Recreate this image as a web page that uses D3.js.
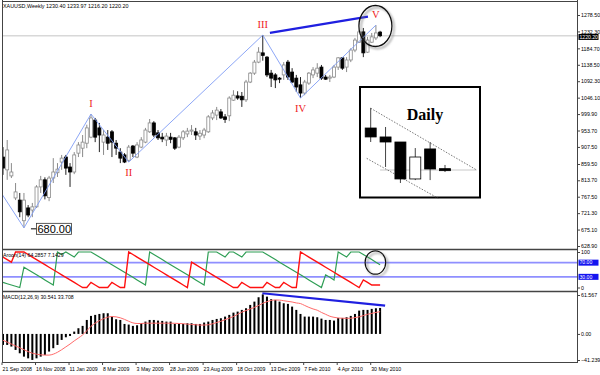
<!DOCTYPE html>
<html>
<head>
<meta charset="utf-8">
<script src="https://cdn.jsdelivr.net/npm/d3@7/dist/d3.min.js"></script>
<style>
  body { margin: 0; background: #fff; }
  svg { display: block; font-family: "Liberation Sans", Arial, sans-serif; }
</style>
</head>
<body>
<svg id="chart" width="600" height="375"></svg>
<script>
// XAUUSD weekly bars, 21 Sep 2008 .. 13 Jun 2010
const opens = [879, 843, 826, 764, 758, 700, 736, 730, 739, 795, 815, 765, 820, 835, 865, 879, 851, 837, 890, 904,
  918, 935, 983, 961, 921, 935, 950, 918, 893, 885, 870, 910, 879, 907, 921, 950, 975, 947, 935, 927,
  935, 933, 907, 933, 944, 952, 950, 938, 941, 950, 989, 997, 1006, 992, 995, 1039, 1051, 1050, 1040, 1090,
  1115, 1146, 1172, 1160, 1115, 1110, 1101, 1110, 1146, 1118, 1101, 1082, 1059, 1087, 1110, 1115, 1132, 1104, 1101, 1104,
  1132, 1158, 1132, 1152, 1180, 1202, 1231, 1174, 1202, 1214, 1230.40];
const highs = [907, 927, 862, 806, 778, 778, 744, 750, 800, 826, 822, 826, 876, 862, 885, 885, 862, 893, 921, 941,
  970, 1000, 989, 975, 955, 955, 955, 927, 904, 890, 913, 913, 921, 935, 961, 986, 980, 955, 947, 947,
  947, 935, 941, 955, 961, 969, 961, 955, 961, 997, 1011, 1020, 1014, 1000, 1050, 1067, 1064, 1062, 1096, 1118,
  1152, 1188, 1222, 1163, 1124, 1115, 1104, 1146, 1152, 1129, 1110, 1104, 1096, 1118, 1132, 1143, 1138, 1110, 1110, 1138,
  1160, 1160, 1160, 1185, 1214, 1236, 1242, 1217, 1228, 1250, 1233.97];
const lows = [829, 815, 820, 758, 710, 680, 710, 710, 736, 778, 760, 755, 806, 823, 843, 829, 795, 831, 879, 879,
  904, 932, 921, 893, 885, 899, 879, 885, 862, 862, 865, 879, 876, 904, 918, 947, 935, 927, 921, 910,
  918, 899, 904, 927, 935, 941, 927, 927, 932, 947, 983, 983, 986, 975, 980, 1037, 1040, 1020, 1034, 1087,
  1110, 1143, 1150, 1104, 1076, 1073, 1087, 1096, 1096, 1087, 1062, 1045, 1053, 1082, 1101, 1104, 1096, 1096, 1090, 1101,
  1124, 1124, 1118, 1146, 1174, 1200, 1160, 1172, 1200, 1208, 1216.20];
const closes = [848, 899, 837, 781, 725, 758, 716, 739, 795, 815, 770, 820, 837, 845, 876, 848, 837, 885, 913, 921,
  961, 989, 935, 941, 941, 918, 921, 904, 876, 865, 907, 890, 913, 927, 955, 975, 941, 933, 930, 938,
  929, 904, 935, 950, 952, 955, 941, 946, 955, 992, 1003, 1011, 989, 985, 1045, 1053, 1045, 1040, 1090, 1115,
  1146, 1174, 1165, 1110, 1101, 1096, 1098, 1138, 1104, 1090, 1076, 1059, 1090, 1115, 1124, 1129, 1101, 1098, 1104, 1132,
  1158, 1129, 1152, 1180, 1208, 1231, 1172, 1208, 1217, 1228, 1220.20];

const dateIdx = [0, 8, 16, 24, 32, 40, 48, 56, 64, 72, 80, 88];
const dateLabels = ["21 Sep 2008", "16 Nov 2008", "11 Jan 2009", "8 Mar 2009", "3 May 2009", "28 Jun 2009",
  "23 Aug 2009", "18 Oct 2009", "13 Dec 2009", "7 Feb 2010", "4 Apr 2010", "30 May 2010"];
const priceTicks = [1278.50, 1232.30, 1184.70, 1138.50, 1092.30, 1046.10, 999.90, 953.70, 907.50, 859.50,
  813.70, 767.50, 721.30, 675.10, 628.90];

// zigzag pivots and wave names
const zigIdx = [-0.25, 5, 21, 30, 62, 71, 89];
const zigPrice = [775, 680, 1000, 865, 1222, 1045, 1250];
const waveNames = ["I", "II", "III", "IV", "V"];
const trendMain = [[63.7, 1228], [87.1, 1274]];

// Aroon(14)
const aroonUp = [14.3, 10.7, 7.1, 3.6, 0, 57.1, 50, 42.9, 35.7, 28.6, 21.4, 14.3, 7.1, 100, 92.9, 100, 92.9, 85.7, 100, 100,
  100, 100, 92.9, 85.7, 78.6, 71.4, 64.3, 57.1, 50, 42.9, 35.7, 28.6, 21.4, 14.3, 7.1, 100, 92.9, 85.7, 78.6, 71.4,
  64.3, 57.1, 50, 42.9, 35.7, 28.6, 21.4, 14.3, 7.1, 100, 100, 100, 92.9, 85.7, 100, 100, 92.9, 85.7, 100, 100,
  100, 100, 100, 92.9, 85.7, 78.6, 71.4, 64.3, 57.1, 50, 42.9, 35.7, 28.6, 21.4, 14.3, 7.1, 0, 35.7, 28.6, 21.4,
  100, 92.9, 85.7, 100, 100, 100, 92.9, 85.7, 78.6, 71.4, 64.3];
const aroonDown = [85.7, 78.6, 71.4, 100, 100, 100, 92.9, 85.7, 78.6, 71.4, 64.3, 57.1, 50, 42.9, 35.7, 28.6, 21.4, 14.3, 7.1, 0,
  0, 14.3, 7.1, 0, 0, 0, 14.3, 7.1, 0, 0, 100, 92.9, 85.7, 78.6, 71.4, 64.3, 57.1, 50, 42.9, 35.7,
  28.6, 21.4, 14.3, 7.1, 0, 71.4, 64.3, 57.1, 50, 42.9, 35.7, 28.6, 21.4, 14.3, 7.1, 0, 0, 14.3, 7.1, 0,
  0, 0, 0, 14.3, 7.1, 0, 0, 14.3, 7.1, 0, 0, 100, 92.9, 85.7, 78.6, 71.4, 64.3, 57.1, 50, 42.9,
  35.7, 28.6, 21.4, 14.3, 7.1, 0, 21.4, 14.3, 7.1, 7.1, 7.1];
const aroonLevels = [70, 30];

// MACD(12,26,9)
const macdHist = [-17.4, -17.4, -20, -25.3, -30.6, -35.9, -38.6, -41.1, -38.6, -35.9, -33.2, -27.9, -22.6, -17.4, -9.5, -5.3, -3.2, 3.7, 9.0, 12.7,
  22.1, 28.5, 30.1, 31.6, 32.7, 32.7, 27.4, 23.2, 22.1, 15.8, 14.8, 12.7, 13.7, 16.9, 19.5, 22.1, 22.1, 21.1, 20.6, 19.5,
  19.5, 15.8, 15.8, 15.8, 16.9, 16.9, 15.8, 15.8, 18, 19.5, 22.1, 23.7, 24.8, 27.4, 30.1, 33.7, 35.3, 38, 40.6, 45.9,
  51.1, 58, 62.6, 59, 54.9, 53.8, 51.1, 48.5, 47.5, 43.2, 38, 31.6, 27.4, 27.4, 27.4, 26.4, 24.2, 22.1, 22.1, 21.1,
  25.3, 25.3, 26.4, 28.5, 31.6, 36.9, 38, 38, 39.6, 40.6, 41.1];
const macdSignal = [-10, -13, -16, -19, -22, -25, -28, -30.5, -32, -33, -33.5, -33.5, -32, -29, -25, -20.5, -16, -11, -6.5, -1.5,
  5, 12, 17, 21, 24, 26.5, 27.5, 27, 25.5, 23, 20, 17.5, 16.5, 16.5, 17, 17, 17, 17, 17, 17,
  17, 16.8, 16.5, 16.2, 15.5, 15, 14.5, 14, 14, 14.5, 16, 18, 20, 22.5, 25, 27.5, 31, 34.5, 37, 39.5,
  42, 45, 48.5, 51, 53, 53.7, 53.5, 52.5, 51.5, 50.5, 49, 48, 45, 42, 39.5, 37.5, 34, 31, 28, 26.3,
  25.2, 24.8, 24.7, 24.8, 25.8, 27, 29, 31, 32.5, 34, 35.2];
const macdTicks = [61.567, 0, -41.239];
const trendMacd = [[61.9, 64.3], [91.2, 44.7]];

// daily inset (relative units)
const dOpen = [62.5, 54.5, 50, 17, 43.8, 26.2];
const dHigh = [80.4, 63.4, 50, 44.6, 50, 29.5];
const dLow = [50, 27.7, 13.4, 16, 16, 23.2];
const dClose = [54.5, 50, 17, 36.6, 25.9, 24.4];

let svg = d3.select("#chart");
svg.append("rect").attr("width", 600).attr("height", 375).attr("fill", "#fff");

let x = d3.scaleLinear().domain([0, 90]).range([3, 380.1]);
let y = d3.scaleLinear().domain([628.9, 1278.5]).range([246, 15]);
let ya = d3.scaleLinear().domain([0, 100]).range([287.5, 252]);
let ym = d3.scaleLinear().domain([-41.239, 61.567]).range([360, 295]);

let defs = svg.append("defs");
defs.append("clipPath").attr("id", "clipMain").append("rect")
  .attr("x", 2.5).attr("y", 2).attr("width", 574.5).attr("height", 247);
defs.append("filter").attr("id", "shadow")
  .attr("x", "-30%").attr("y", "-30%").attr("width", "160%").attr("height", "160%")
  .append("feDropShadow").attr("dx", 2).attr("dy", 2).attr("stdDeviation", 1.3)
  .attr("flood-color", "#777").attr("flood-opacity", 0.8);

let bars = d3.range(opens.length).map(function (i) {
  return {i: i, o: opens[i], h: highs[i], l: lows[i], c: closes[i]};
});

// ---------- main window ----------
let main = svg.append("g").attr("clip-path", "url(#clipMain)");

// bid line
main.append("line")
  .attr("x1", 2).attr("x2", 577)
  .attr("y1", y(closes[closes.length - 1])).attr("y2", y(closes[closes.length - 1]))
  .attr("stroke", "#d8d8d8").attr("stroke-width", 1.5);

main.selectAll(".wick")
  .data(bars)
  .join("line")
  .attr("class", "wick")
  .attr("x1", function (d) { return x(d.i); })
  .attr("x2", function (d) { return x(d.i); })
  .attr("y1", function (d) { return y(d.h); })
  .attr("y2", function (d) { return y(d.l); })
  .attr("stroke", function (d) { return d.c >= d.o ? "#8a8a8a" : "#222"; })
  .attr("stroke-width", 1);

main.selectAll(".body")
  .data(bars)
  .join("rect")
  .attr("class", "body")
  .attr("x", function (d) { return x(d.i) - 1.5; })
  .attr("width", 3)
  .attr("y", function (d) { return y(Math.max(d.o, d.c)); })
  .attr("height", function (d) { return Math.max(0.8, Math.abs(y(d.o) - y(d.c))); })
  .attr("fill", function (d) { return d.c >= d.o ? "#fff" : "#000"; })
  .attr("stroke", function (d) { return d.c >= d.o ? "#8a8a8a" : "#000"; })
  .attr("stroke-width", 0.8);

// zigzag
let zig = zigIdx.map(function (d, i) { return [x(d), y(zigPrice[i])]; });
main.append("path")
  .attr("d", d3.line()(zig))
  .attr("fill", "none")
  .attr("stroke", "#7f9cf5")
  .attr("stroke-width", 0.9);

main.append("path")
  .attr("d", d3.line()(trendMain.map(function (d) { return [x(d[0]), y(d[1])]; })))
  .attr("stroke", "#1f1fe0")
  .attr("stroke-width", 2.2);

// wave labels: tops above, bottoms below
main.selectAll(".wave")
  .data(waveNames)
  .join("text")
  .attr("class", "wave")
  .attr("x", function (d, i) { return x(zigIdx[i + 2]); })
  .attr("y", function (d, i) { return i % 2 === 0 ? y(zigPrice[i + 2]) - 7 : y(zigPrice[i + 2]) + 14; })
  .attr("text-anchor", "middle")
  .attr("font-family", "Liberation Serif, Times New Roman, serif")
  .attr("font-size", 10.5)
  .attr("fill", "#ee1c1c")
  .text(function (d) { return d; });

// low price label
let lowX = x(zigIdx[1]), lowY = y(zigPrice[1]);
main.append("line")
  .attr("x1", lowX + 7).attr("x2", lowX + 13)
  .attr("y1", lowY + 1).attr("y2", lowY + 1)
  .attr("stroke", "#000");
main.append("rect")
  .attr("x", lowX + 12.5).attr("y", lowY - 4.5).attr("width", 35).attr("height", 11)
  .attr("fill", "#fff").attr("stroke", "#333").attr("stroke-width", 0.8);
main.append("text")
  .attr("x", lowX + 13.5).attr("y", lowY + 5)
  .attr("font-size", 11)
  .attr("fill", "#000")
  .text(d3.format(".2f")(zigPrice[1]));

// circle round wave V
main.append("ellipse")
  .attr("cx", x(89) - 0.5).attr("cy", 26).attr("rx", 16.5).attr("ry", 20.5)
  .attr("fill", "none").attr("stroke", "#111").attr("stroke-width", 1.3)
  .attr("filter", "url(#shadow)");

// daily inset
let inset = svg.append("g");
inset.append("rect")
  .attr("x", 360).attr("y", 87).attr("width", 120).attr("height", 110.5)
  .attr("fill", "#fff").attr("stroke", "#000").attr("stroke-width", 2);
inset.append("text")
  .attr("x", 425).attr("y", 119.5)
  .attr("text-anchor", "middle")
  .attr("font-family", "Liberation Serif, Times New Roman, serif")
  .attr("font-weight", "bold")
  .attr("font-size", 16)
  .text("Daily");

let dx = d3.scaleLinear().domain([0, 5]).range([370.7, 445]);
let dy = d3.scaleLinear().domain([0, 100]).range([198, 86]);
let dbars = dOpen.map(function (d, i) {
  return {i: i, o: d, h: dHigh[i], l: dLow[i], c: dClose[i]};
});
inset.append("line")
  .attr("x1", dx(0.63)).attr("x2", dx(7.13))
  .attr("y1", dy(25)).attr("y2", dy(25))
  .attr("stroke", "#c8c8c8").attr("stroke-width", 1);
inset.append("line")
  .attr("x1", dx(0)).attr("x2", dx(7.13))
  .attr("y1", dy(80.1)).attr("y2", dy(25))
  .attr("stroke", "#555").attr("stroke-width", 0.8).attr("stroke-dasharray", "1.5,1.5");
inset.append("line")
  .attr("x1", dx(-0.27)).attr("x2", dx(4.55))
  .attr("y1", dy(35.4)).attr("y2", dy(-0.3))
  .attr("stroke", "#555").attr("stroke-width", 0.8).attr("stroke-dasharray", "1.5,1.5");
inset.selectAll(".dwick")
  .data(dbars)
  .join("line")
  .attr("class", "dwick")
  .attr("x1", function (d) { return dx(d.i); })
  .attr("x2", function (d) { return dx(d.i); })
  .attr("y1", function (d) { return dy(d.h); })
  .attr("y2", function (d) { return dy(d.l); })
  .attr("stroke", "#444").attr("stroke-width", 1);
inset.selectAll(".dbody")
  .data(dbars)
  .join("rect")
  .attr("class", "dbody")
  .attr("x", function (d) { return dx(d.i) - 5.5; })
  .attr("width", 11)
  .attr("y", function (d) { return dy(Math.max(d.o, d.c)); })
  .attr("height", function (d) { return Math.max(1.5, Math.abs(dy(d.o) - dy(d.c))); })
  .attr("fill", function (d) { return d.c >= d.o ? "#fff" : "#000"; })
  .attr("stroke", "#000").attr("stroke-width", 0.8);

// title
svg.append("text")
  .attr("x", 3).attr("y", 7.5)
  .attr("font-size", 5.4)
  .attr("fill", "#000")
  .text("XAUUSD,Weekly  1230.40 1233.97 1216.20 1220.20");

// ---------- Aroon window ----------
let aroon = svg.append("g");
aroon.selectAll(".lvl")
  .data(aroonLevels)
  .join("line")
  .attr("class", "lvl")
  .attr("x1", 2).attr("x2", 577)
  .attr("y1", function (d) { return ya(d); }).attr("y2", function (d) { return ya(d); })
  .attr("stroke", "#8f8fff").attr("stroke-width", 1.6);

let lineA = d3.line()
  .x(function (d, i) { return x(i); })
  .y(function (d) { return ya(d); });
aroon.append("path").attr("d", lineA(aroonUp))
  .attr("fill", "none").attr("stroke", "#2f9e55").attr("stroke-width", 1.2);
aroon.append("path").attr("d", lineA(aroonDown))
  .attr("fill", "none").attr("stroke", "#ff1010").attr("stroke-width", 1.4);
aroon.append("text")
  .attr("x", 3).attr("y", 257)
  .attr("font-size", 5.2)
  .text("Aroon(14) 64.2857 7.1429");

aroon.append("ellipse")
  .attr("cx", x(89) - 0.5).attr("cy", 262.5).attr("rx", 10.3).attr("ry", 11.7)
  .attr("fill", "none").attr("stroke", "#111").attr("stroke-width", 1.2)
  .attr("filter", "url(#shadow)");

// ---------- MACD window ----------
let macd = svg.append("g");
macd.selectAll(".hist")
  .data(macdHist)
  .join("rect")
  .attr("class", "hist")
  .attr("x", function (d, i) { return x(i) - 1; })
  .attr("width", 2)
  .attr("y", function (d) { return Math.min(ym(d), ym(0)); })
  .attr("height", function (d) { return Math.abs(ym(d) - ym(0)); })
  .attr("fill", "#000");
macd.append("path")
  .attr("d", d3.line().curve(d3.curveMonotoneX)
    .x(function (d, i) { return x(i); })
    .y(function (d) { return ym(d); })(macdSignal))
  .attr("fill", "none").attr("stroke", "#ff6a6a").attr("stroke-width", 1);
macd.append("path")
  .attr("d", d3.line()(trendMacd.map(function (d) { return [x(d[0]), ym(d[1])]; })))
  .attr("stroke", "#1f1fe0").attr("stroke-width", 2.2);
macd.append("text")
  .attr("x", 3).attr("y", 299)
  .attr("font-size", 5.2)
  .text("MACD(12,26,9) 30.541 33.708");

// ---------- frames ----------
let frame = svg.append("g").attr("fill", "none").attr("stroke", "#444");
frame.append("line").attr("x1", 2.5).attr("x2", 2.5).attr("y1", 0).attr("y2", 362.5);
frame.append("line").attr("x1", 577.5).attr("x2", 577.5).attr("y1", 0).attr("y2", 362.5);
frame.append("line").attr("x1", 2).attr("x2", 578).attr("y1", 1.5).attr("y2", 1.5);
frame.append("line").attr("x1", 2).attr("x2", 578).attr("y1", 249.5).attr("y2", 249.5).attr("stroke-width", 1.5);
frame.append("line").attr("x1", 2).attr("x2", 578).attr("y1", 291.5).attr("y2", 291.5).attr("stroke-width", 1.5);
frame.append("line").attr("x1", 2).attr("x2", 578).attr("y1", 362.5).attr("y2", 362.5);

// ---------- axes ----------
let axisPrice = svg.append("g")
  .attr("transform", "translate(577.5,0)")
  .call(d3.axisRight(y).tickValues(priceTicks).tickSize(2.5).tickPadding(1).tickFormat(d3.format(".2f")));
let axisA = svg.append("g")
  .attr("transform", "translate(577.5,0)")
  .call(d3.axisRight(ya).tickValues([100, 0]).tickSize(2.5).tickPadding(1).tickFormat(d3.format("d")));
let axisM = svg.append("g")
  .attr("transform", "translate(577.5,0)")
  .call(d3.axisRight(ym).tickValues(macdTicks).tickSize(2.5).tickPadding(1)
    .tickFormat(function (d) { return d === 0 ? "0.00" : d3.format(".3f")(d); }));
[axisPrice, axisA, axisM].forEach(function (g) {
  g.select(".domain").remove();
  g.selectAll("text").attr("font-size", 5.3).attr("font-family", "Liberation Sans, Arial, sans-serif");
  g.selectAll("line").attr("stroke", "#444");
});

// price and level boxes on the axis
let boxes = [{v: y(closes[closes.length - 1]) + 1.2, t: d3.format(".2f")(closes[closes.length - 1]), fill: "#000"}]
  .concat(aroonLevels.map(function (d) { return {v: ya(d), t: d3.format(".2f")(d), fill: "#1414f0"}; }));
let boxG = svg.selectAll(".box").data(boxes).join("g").attr("class", "box");
boxG.append("rect")
  .attr("x", 578.5).attr("y", function (d) { return d.v - 3; })
  .attr("width", 20).attr("height", 6)
  .attr("fill", function (d) { return d.fill; });
boxG.append("text")
  .attr("x", 579.5).attr("y", function (d) { return d.v + 1.8; })
  .attr("font-size", 5.1).attr("fill", "#fff")
  .text(function (d) { return d.t; });

// time axis
let timeG = svg.append("g");
timeG.selectAll("line")
  .data(dateIdx)
  .join("line")
  .attr("x1", function (d) { return x(d) - 1; })
  .attr("x2", function (d) { return x(d) - 1; })
  .attr("y1", 362.5).attr("y2", 365)
  .attr("stroke", "#444");
timeG.selectAll("text")
  .data(dateLabels)
  .join("text")
  .attr("x", function (d, i) { return x(dateIdx[i]) - 0.5; })
  .attr("y", 370.5)
  .attr("font-size", 5.2)
  .text(function (d) { return d; });
</script>
</body>
</html>
